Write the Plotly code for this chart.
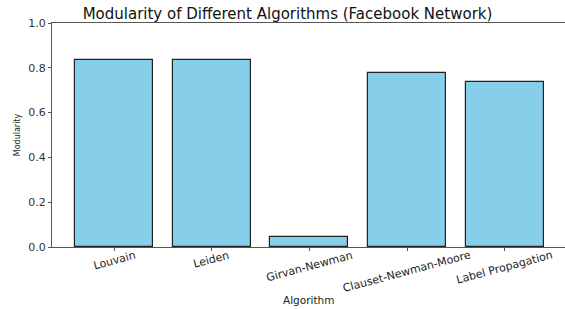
import plotly.graph_objects as go

algorithms = ["Louvain", "Leiden", "Girvan-Newman", "Clauset-Newman-Moore", "Label Propagation"]
modularity = [0.835, 0.835, 0.043, 0.777, 0.737]
y_ticks = [0.0, 0.2, 0.4, 0.6, 0.8, 1.0]

FONT = "DejaVu Sans"
AXC = "#555555"

W, H = 565, 309

fig = go.Figure()
fig.add_trace(go.Bar(
    x=list(range(len(algorithms))), y=modularity, width=0.8,
    marker=dict(color="#87CEEB", line=dict(color="#222222", width=1.2)),
))

for i, name in enumerate(algorithms):
    fig.add_annotation(
        x=i, xref="x", y=0, yref="paper", text=name, showarrow=False,
        textangle=-15, xanchor="center", yanchor="top", yshift=1,
        font=dict(family=FONT, size=11, color="#222222"),
    )

fig.add_annotation(
    x=0.5, xref="paper", y=0, yref="paper", text="Algorithm", showarrow=False,
    xanchor="center", yanchor="middle", yshift=-53,
    font=dict(family=FONT, size=10.5, color="#222222"),
)

fig.update_layout(
    width=W, height=H,
    margin=dict(l=52, r=0, t=23, b=62),
    plot_bgcolor="white", paper_bgcolor="white",
    showlegend=False, bargap=0,
    title=dict(text="Modularity of Different Algorithms (Facebook Network)",
               x=287.5 / W, xanchor="center", y=1 - 14 / H, yanchor="middle",
               font=dict(family=FONT, size=15, color="#111111")),
    xaxis=dict(range=[-0.64, 4.62], tickvals=list(range(len(algorithms))),
               ticktext=["" for _ in algorithms], ticks="outside", ticklen=3,
               tickcolor=AXC, showgrid=False, zeroline=False, automargin=False,
               showline=True, linecolor=AXC, linewidth=1, mirror=True),
    yaxis=dict(range=[0, 1.0], tickvals=y_ticks, tickformat=".1f",
               ticks="outside", ticklen=3, tickcolor=AXC, automargin=False,
               showgrid=False, zeroline=False, showline=True, linecolor=AXC,
               linewidth=1, tickfont=dict(family=FONT, size=11, color="#333333"),
               title=dict(text="Modularity", standoff=6,
                          font=dict(family=FONT, size=8, color="#222222"))),
)

fig.write_html(
    "out.html",
    config={"displayModeBar": False},
    post_script="document.body.style.margin='0';document.body.style.overflow='hidden';",
)
